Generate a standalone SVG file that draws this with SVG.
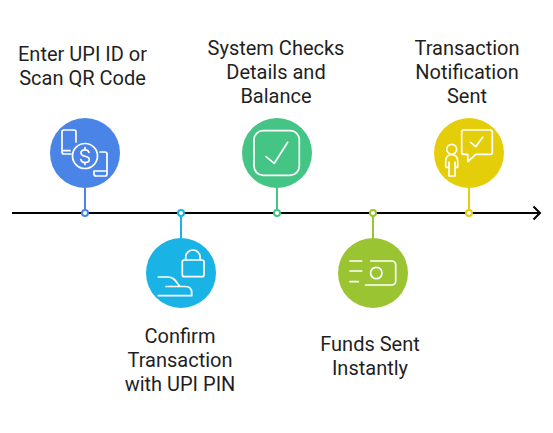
<svg xmlns="http://www.w3.org/2000/svg" width="553" height="433" viewBox="0 0 553 433">
<style>
.t{font-family:Roboto,"Liberation Sans",sans-serif;font-size:20px;fill:#1f1f1f;text-anchor:middle}
.i{fill:none;stroke:#fff;stroke-width:1.7;stroke-linecap:round;stroke-linejoin:round}
.d{fill:#fff;stroke-width:2}
</style>
<rect width="553" height="433" fill="#fff"/>
<g id="connectors" fill="none">
<path d="M12 213H539" stroke="#000" stroke-width="2"/>
<path d="M533.500 206.500L540 213L533.500 219.500" stroke="#000" stroke-width="2"/>
<path d="M85 188V213" stroke="#4a84e7" stroke-width="2"/>
<path d="M181 213V238" stroke="#1ab3e6" stroke-width="2"/>
<path d="M277 188V213" stroke="#44c585" stroke-width="2"/>
<path d="M373 213V238" stroke="#9ac432" stroke-width="2"/>
<path d="M469 188V213" stroke="#e4cd09" stroke-width="2"/>
<circle class="d" cx="85" cy="213" r="3" stroke="#4a84e7"/>
<circle class="d" cx="181" cy="213" r="3" stroke="#1ab3e6"/>
<circle class="d" cx="277" cy="213" r="3" stroke="#44c585"/>
<circle class="d" cx="373" cy="213" r="3" stroke="#9ac432"/>
<circle class="d" cx="469" cy="213" r="3" stroke="#e4cd09"/>
</g>
<g id="node1">
<circle cx="85" cy="153" r="35" fill="#4a84e7"/>
<path class="i" d="M76 142V132a2 2 0 0 0-2-2H64a2 2 0 0 0-2 2V152a2 2 0 0 0 2 2H71M62 150.700H70M100 152H105a2 2 0 0 1 2 2V174a2 2 0 0 1-2 2H96a2 2 0 0 1-2-2V171H107"/>
<circle class="i" cx="85" cy="156" r="12.500"/>
<path class="i" d="M89 152.500C88.500 150.500 87 149.800 85 149.800C82.500 149.800 81 151 81 153C81 157.500 89.300 155 89.300 159.500C89.300 161.500 87.500 162.500 85 162.500C82.800 162.500 81.300 161.500 80.800 159.500M85 147.500V149.800M85 162.500V164.500"/>
<text class="t" x="82.500" y="61">Enter UPI ID or</text>
<text class="t" x="82.500" y="85">Scan QR Code</text>
</g>
<g id="node2">
<circle cx="181" cy="273" r="35" fill="#1ab3e6"/>
<rect class="i" x="182.300" y="260" width="21.700" height="16.700" rx="2"/>
<path class="i" d="M185.700 260V257.200a7.200 7.200 0 0 1 14.400 0V260"/>
<path class="i" d="M158.300 277H168C174 277 175.500 281 180 286.500H166M180 286.500H185C189.500 286.500 191.700 289 191.700 292.500V295.700H158.300"/>
<text class="t" x="180" y="343">Confirm</text>
<text class="t" x="180" y="367">Transaction</text>
<text class="t" x="180" y="391">with UPI PIN</text>
</g>
<g id="node3">
<circle cx="277" cy="153" r="35" fill="#44c585"/>
<rect class="i" x="254" y="130.700" width="45.300" height="44.600" rx="9"/>
<path class="i" d="M266 156.700L274.300 163.300L287.700 142.300"/>
<text class="t" x="276" y="55">System Checks</text>
<text class="t" x="276" y="79">Details and</text>
<text class="t" x="276" y="103">Balance</text>
</g>
<g id="node4">
<circle cx="373" cy="273" r="35" fill="#9ac432"/>
<path class="i" d="M350 261H361.700M350 271H361.700M350 281.700H358.300M370.700 261H391.700a4 4 0 0 1 4 4V281a4 4 0 0 1-4 4H365.700"/>
<circle class="i" cx="376.300" cy="273" r="5.700"/>
<text class="t" x="370" y="351">Funds Sent</text>
<text class="t" x="370" y="375">Instantly</text>
</g>
<g id="node5">
<circle cx="469" cy="153" r="35" fill="#e4cd09"/>
<path class="i" d="M463.700 130H490.300a2 2 0 0 1 2 2V152.300a2 2 0 0 1-2 2H475.700L468 161.700L467.700 154.300H463.700a2 2 0 0 1-2-2V132a2 2 0 0 1 2-2Z"/>
<path class="i" d="M470.700 142.300L475.700 146.700L482.700 137.300"/>
<circle class="i" cx="451.700" cy="149.300" r="5"/>
<path class="i" d="M449 167.300H445.700V160.500a6 6 0 0 1 12 0V167.300H455M449 162V176H455V162"/>
<text class="t" x="467" y="55">Transaction</text>
<text class="t" x="467" y="79">Notification</text>
<text class="t" x="467" y="103">Sent</text>
</g>
</svg>
